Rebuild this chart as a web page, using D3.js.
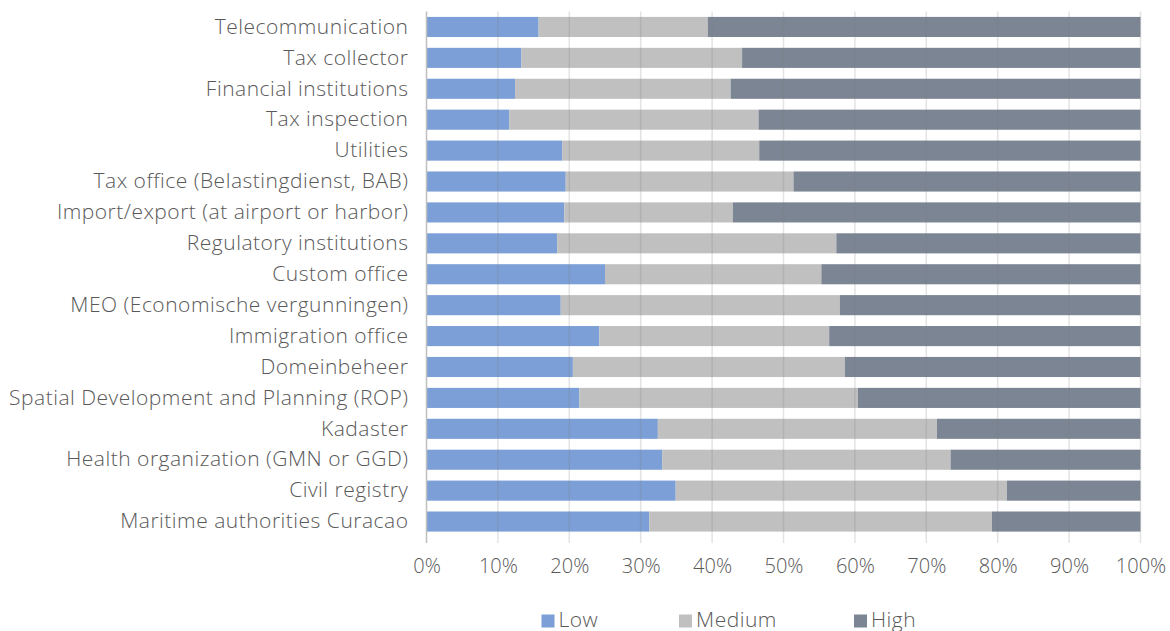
<!DOCTYPE html>
<html>
<head>
<meta charset="utf-8">
<script src="https://cdn.jsdelivr.net/npm/d3@7"></script>
<style>
  html, body { margin: 0; padding: 0; background: #fff; }
  svg text { font-family: "Open Sans", Lato, sans-serif; font-weight: 300; fill: #595959; }
</style>
</head>
<body>
<svg id="chart" width="1170" height="631"></svg>
<script>
const categories = [
  "Telecommunication", "Tax collector", "Financial institutions", "Tax inspection",
  "Utilities", "Tax office (Belastingdienst, BAB)", "Import/export (at airport or harbor)",
  "Regulatory institutions", "Custom office", "MEO (Economische vergunningen)",
  "Immigration office", "Domeinbeheer", "Spatial Development and Planning (ROP)",
  "Kadaster", "Health organization (GMN or GGD)", "Civil registry", "Maritime authorities Curacao"
];
const low    = [15.7, 13.3, 12.4, 11.6, 19.0, 19.5, 19.3, 18.3, 25.0, 18.8, 24.2, 20.5, 21.4, 32.4, 33.0, 34.9, 31.2];
const medium = [23.7, 30.9, 30.2, 34.9, 27.6, 31.9, 23.6, 39.1, 30.3, 39.1, 32.2, 38.1, 39.0, 39.1, 40.4, 46.4, 48.0];
const high   = [60.6, 55.8, 57.4, 53.5, 53.4, 48.6, 57.1, 42.6, 44.7, 42.1, 43.6, 41.4, 39.6, 28.5, 26.6, 18.7, 20.8];
const seriesNames = ["Low", "Medium", "High"];
const tickValues = [0, 0.1, 0.2, 0.3, 0.4, 0.5, 0.6, 0.7, 0.8, 0.9, 1.0];
const colors = ["#7b9fd6", "#c0c0c0", "#7b8593"];

const rows = categories.map((c, i) => ({ cat: c, Low: low[i], Medium: medium[i], High: high[i] }));
const stacked = d3.stack().keys(seriesNames).offset(d3.stackOffsetExpand)(rows);

const svg = d3.select("#chart");
const margin = { left: 426.5, right: 29.5, top: 11.5, bottom: 94 };
const W = 1170, H = 631;
const FONT = "'Open Sans', Lato, sans-serif";

const x = d3.scaleLinear().domain([0, 1]).range([margin.left, W - margin.right]);
const y = d3.scaleBand().domain(categories).range([margin.top, H - margin.bottom]).paddingInner(0.35).paddingOuter(0.175);
const color = d3.scaleOrdinal().domain(seriesNames).range(colors);

// bars
svg.append("g").selectAll("g").data(stacked).join("g")
  .attr("fill", d => color(d.key))
  .selectAll("rect").data(d => d).join("rect")
  .attr("x", d => x(d[0]))
  .attr("width", d => x(d[1]) - x(d[0]))
  .attr("y", d => y(d.data.cat))
  .attr("height", y.bandwidth());

// gridlines on top
svg.append("g").selectAll("line").data(tickValues.slice(1)).join("line")
  .attr("x1", d => x(d)).attr("x2", d => x(d))
  .attr("y1", margin.top).attr("y2", H - margin.bottom + 6)
  .attr("stroke", "rgba(128,128,128,0.22)").attr("stroke-width", 1.5);

// left axis line
svg.append("line")
  .attr("x1", x(0)).attr("x2", x(0))
  .attr("y1", margin.top).attr("y2", H - margin.bottom + 6)
  .attr("stroke", "#bfbfbf").attr("stroke-width", 1.5);

// x axis labels
const xAxis = d3.axisBottom(x).tickValues(tickValues).tickFormat(d3.format(".0%")).tickSize(0).tickPadding(0);
const gx = svg.append("g").attr("transform", `translate(0,${H - margin.bottom + 22})`).call(xAxis);
gx.select(".domain").remove();
gx.selectAll("text").attr("font-size", 20).attr("font-family", null).attr("dy", "0.71em")
  .style("font-family", FONT).style("font-weight", 300).style("fill", "#595959");

// y axis labels
const yAxis = d3.axisLeft(y).tickSize(0).tickPadding(18);
const gy = svg.append("g").attr("transform", `translate(${x(0)},0)`).call(yAxis);
gy.select(".domain").remove();
gy.selectAll("text").attr("font-size", 21).attr("font-family", null)
  .style("font-family", FONT).style("font-weight", 300).style("fill", "#595959")
  .style("letter-spacing", "0.5px");

// legend
const legendX = [541.5, 679, 854];
const lg = svg.append("g").selectAll("g").data(seriesNames).join("g")
  .attr("transform", (d, i) => `translate(${legendX[i]},614.5)`);
lg.append("rect").attr("width", 13).attr("height", 13).attr("fill", d => color(d));
lg.append("text").attr("x", 17).attr("y", 12).attr("font-size", 21)
  .style("letter-spacing", "0.5px").text(d => d);
</script>
</body>
</html>
